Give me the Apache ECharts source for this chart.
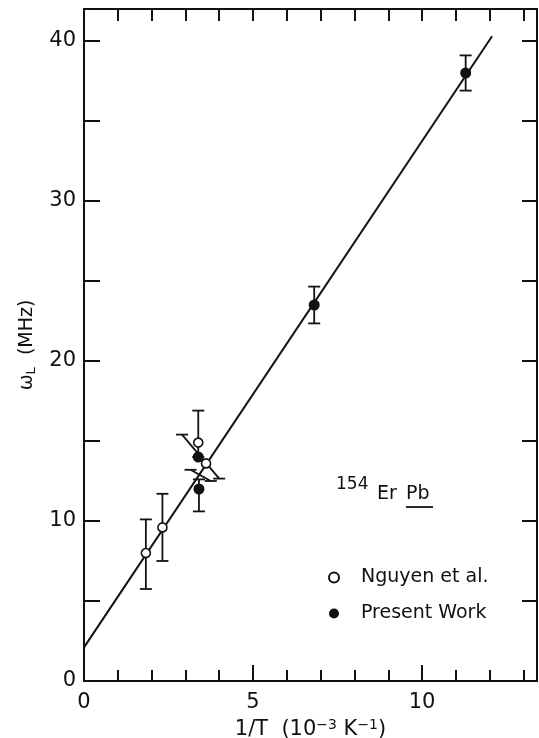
<!DOCTYPE html>
<html>
<head>
<meta charset="utf-8">
<title>154ErPb</title>
<script src="https://cdn.jsdelivr.net/npm/echarts@6/dist/echarts.min.js"></script>
<style>
  html, body { margin: 0; padding: 0; background: #fff; }
  #main { width: 539px; height: 738px; }
</style>
</head>
<body>
<div id="main"></div>
<script>
// open circles
var nguyenX = [1.83, 2.32, 3.38, 3.61];
var nguyenY = [8.0, 9.6, 14.9, 13.6];
// filled circles
var presentX = [3.38, 3.40, 6.81, 11.29];
var presentY = [14.0, 12.0, 23.5, 38.0];
// vertical error bars
var barX = [1.83, 2.32, 3.38, 3.40, 6.81, 11.29];
var barLow = [5.75, 7.5, 14.0, 10.6, 22.35, 36.9];
var barHigh = [10.1, 11.7, 16.9, 12.6, 24.65, 39.1];
// slanted error bars (start / end)
var slantStart = [[2.9, 15.4], [3.15, 13.2]];
var slantEnd = [[4.0, 12.65], [3.75, 12.5]];
// fitted line
var fitX = [0, 12.07];
var fitY = [2.1, 40.3];

function zip(a, b) {
  var out = [];
  for (var i = 0; i < a.length; i++) out.push([a[i], b[i]]);
  return out;
}

var black = '#111';
var capW = 6;

function capLine(p, st) {
  return { type: 'line', shape: { x1: p[0] - capW, y1: p[1], x2: p[0] + capW, y2: p[1] }, style: st };
}

function renderBar(params, api) {
  var x = api.value(0);
  var lo = api.coord([x, api.value(1)]);
  var hi = api.coord([x, api.value(2)]);
  var st = { stroke: black, lineWidth: 1.8, fill: null };
  return {
    type: 'group',
    children: [
      { type: 'line', shape: { x1: lo[0], y1: lo[1], x2: hi[0], y2: hi[1] }, style: st },
      capLine(lo, st),
      capLine(hi, st)
    ]
  };
}

function renderSlant(params, api) {
  var a = api.coord([api.value(0), api.value(1)]);
  var b = api.coord([api.value(2), api.value(3)]);
  var st = { stroke: black, lineWidth: 1.8, fill: null };
  return {
    type: 'group',
    children: [
      { type: 'line', shape: { x1: a[0], y1: a[1], x2: b[0], y2: b[1] }, style: st },
      capLine(a, st),
      capLine(b, st)
    ]
  };
}

var barData = [];
for (var i = 0; i < barX.length; i++) barData.push([barX[i], barLow[i], barHigh[i]]);
var slantData = [];
for (var j = 0; j < slantStart.length; j++) slantData.push(slantStart[j].concat(slantEnd[j]));

var font = 'DejaVu Sans';
var axisLine = { show: true, onZero: false, lineStyle: { color: black, width: 2 } };
var noLine = { show: false, onZero: false };

var chart = echarts.init(document.getElementById('main'));
chart.setOption({
  animation: false,
  backgroundColor: '#fff',
  textStyle: { fontFamily: font, color: black },
  grid: { left: 84, right: 2, top: 9, bottom: 57, containLabel: false, outerBoundsMode: 'none' },
  legend: {
    orient: 'vertical',
    left: 323,
    top: 563,
    itemWidth: 44,
    itemHeight: 10,
    itemGap: 17,
    data: ['Nguyen et al.', 'Present Work'],
    textStyle: { fontFamily: font, fontSize: 19, color: black }
  },
  xAxis: [
    {
      type: 'value', min: 0, max: 13.4, interval: 1, position: 'bottom',
      axisLine: axisLine,
      axisTick: { inside: true, length: 11, lineStyle: { color: black, width: 2 } },
      axisLabel: {
        fontSize: 21, color: black, margin: 11, fontFamily: font,
        formatter: function (v) { return v % 5 === 0 ? String(v) : ''; }
      },
      splitLine: { show: false },
      name: '1/T  (10{s|−3} K{s|−1})',
      nameLocation: 'middle',
      nameGap: 36,
      nameTextStyle: {
        fontSize: 21, color: black, fontFamily: font,
        rich: { s: { fontSize: 14, fontFamily: font, color: black, padding: [0, 0, 10, 0] } }
      }
    },
    {
      type: 'value', min: 0, max: 13.4, interval: 5, position: 'bottom',
      axisLine: noLine,
      axisTick: { inside: true, length: 16, lineStyle: { color: black, width: 2 } },
      axisLabel: { show: false },
      splitLine: { show: false }
    },
    {
      type: 'value', min: 0, max: 13.4, interval: 1, position: 'top',
      axisLine: axisLine,
      axisTick: { inside: true, length: 12, lineStyle: { color: black, width: 2 } },
      axisLabel: { show: false },
      splitLine: { show: false }
    }
  ],
  yAxis: [
    {
      type: 'value', min: 0, max: 42, interval: 5, position: 'left',
      axisLine: axisLine,
      axisTick: { inside: true, length: 16, lineStyle: { color: black, width: 2 } },
      axisLabel: {
        fontSize: 21, color: black, margin: 8, fontFamily: font,
        formatter: function (v) { return v % 10 === 0 ? String(v) : ''; }
      },
      splitLine: { show: false },
      name: '{w|ω}{l|L}  (MHz)',
      nameLocation: 'middle',
      nameGap: 46,
      nameRotate: 90,
      nameTextStyle: {
        fontSize: 19, color: black, fontFamily: font,
        rich: {
          w: { fontSize: 19, fontFamily: font, color: black },
          l: { fontSize: 13, fontFamily: font, color: black, padding: [8, 0, 0, 0] }
        }
      }
    },
    {
      type: 'value', min: 0, max: 42, interval: 5, position: 'right',
      axisLine: axisLine,
      axisTick: { inside: true, length: 15, lineStyle: { color: black, width: 2 } },
      axisLabel: { show: false },
      splitLine: { show: false }
    }
  ],
  series: [
    {
      name: 'fit', type: 'line', data: zip(fitX, fitY),
      symbol: 'none', lineStyle: { color: black, width: 2 }, z: 2
    },
    {
      name: 'bars', type: 'custom', data: barData, renderItem: renderBar, z: 3
    },
    {
      name: 'slant', type: 'custom', data: slantData, renderItem: renderSlant, z: 3
    },
    {
      name: 'Present Work', type: 'scatter', data: zip(presentX, presentY),
      symbol: 'circle', symbolSize: 11,
      itemStyle: { color: black, borderColor: black, borderWidth: 0, opacity: 1 }, z: 4
    },
    {
      name: 'Nguyen et al.', type: 'scatter', data: zip(nguyenX, nguyenY),
      symbol: 'circle', symbolSize: 9,
      itemStyle: { color: '#fff', borderColor: black, borderWidth: 1.6, opacity: 1 }, z: 5
    }
  ],
  graphic: [
    { type: 'text', left: 336, top: 476, style: { text: '154', font: '17px "DejaVu Sans"', fill: black } },
    { type: 'text', left: 377, top: 485, style: { text: 'Er', font: '19px "DejaVu Sans"', fill: black } },
    { type: 'text', left: 406, top: 485, style: { text: 'Pb', font: '19px "DejaVu Sans"', fill: black } },
    { type: 'line', shape: { x1: 406, y1: 507, x2: 433, y2: 507 }, style: { stroke: black, lineWidth: 1.8 } }
  ]
});
</script>
</body>
</html>
